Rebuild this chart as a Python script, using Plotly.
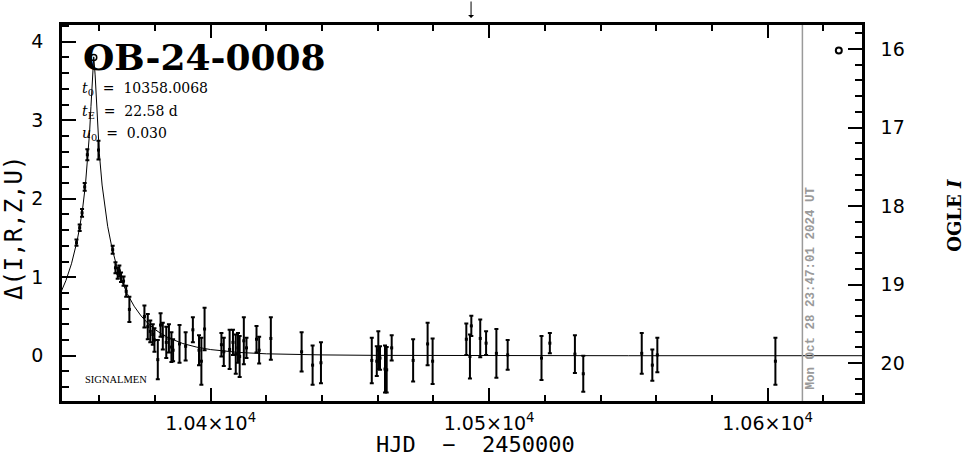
import plotly.graph_objects as go

# ---------------- data ----------------
# observed points: time (HJD-2450000), Delta magnitude, error
t_obs = [10351.8, 10352.95, 10353.8, 10354.75, 10355.7, 10359.7,
         10364.8, 10365.8, 10366.6, 10367.2, 10367.8, 10368.7, 10369.65, 10370.8,
         10376.2, 10377.4, 10378.3, 10379.2, 10379.8, 10381.0, 10382.0, 10382.8,
         10384.05, 10385.0, 10385.9, 10386.5, 10388.8, 10391.0, 10393.6, 10395.8,
         10396.65, 10397.8, 10403.85, 10404.7, 10406.8, 10408.0, 10409.0, 10409.8,
         10410.4, 10411.9, 10412.85, 10416.45, 10417.4, 10421.6, 10432.65, 10436.6,
         10439.6, 10457.85, 10459.65, 10460.2, 10460.8, 10462.6, 10463.2, 10465.0,
         10472.7, 10477.9, 10479.7, 10491.8, 10493.6, 10493.1, 10496.8, 10498.9,
         10502.6, 10506.65, 10518.8, 10521.8, 10530.8, 10533.8, 10554.8, 10558.6,
         10560.4, 10602.8]
d_obs = [1.44, 1.63, 1.82, 2.15, 2.56, 2.62,
         1.35, 1.12, 1.05, 1.08, 1.00, 0.95, 0.82, 0.59,
         0.50, 0.37, 0.31, 0.27, 0.20, -0.05, 0.39, 0.25,
         0.17, 0.22, 0.11, 0.07, 0.15, 0.12, 0.33, 0.07,
         -0.07, 0.34, 0.14, 0.05, 0.08, 0.17, 0.02, 0.10,
         -0.01, 0.19, 0.10, 0.21, 0.07, 0.22, 0.05, -0.12,
         -0.09, -0.06, -0.07, 0.07, -0.03, -0.17, -0.18, 0.10,
         -0.06, 0.15, -0.07, 0.21, 0.38, -0.01, 0.22, 0.16,
         0.03, 0.01, -0.03, 0.16, 0.02, -0.23, 0.03, -0.12,
         0.01, -0.07]
e_obs = [0.04, 0.04, 0.05, 0.05, 0.07, 0.12,
         0.05, 0.07, 0.07, 0.07, 0.06, 0.06, 0.07, 0.16,
         0.14, 0.16, 0.14, 0.13, 0.15, 0.25, 0.15, 0.17,
         0.20, 0.18, 0.19, 0.14, 0.24, 0.18, 0.16, 0.19,
         0.30, 0.27, 0.15, 0.18, 0.25, 0.16, 0.25, 0.19,
         0.26, 0.30, 0.13, 0.17, 0.17, 0.27, 0.25, 0.25,
         0.26, 0.29, 0.19, 0.24, 0.15, 0.30, 0.29, 0.16,
         0.27, 0.27, 0.29, 0.20, 0.13, 0.28, 0.24, 0.15,
         0.31, 0.19, 0.28, 0.13, 0.24, 0.23, 0.26, 0.20,
         0.22, 0.30]

# open-circle point at the peak
t_peak = [10358.0]
d_peak = [3.80]

# model light curve
model_t = [10346, 10348, 10350, 10352, 10353, 10354, 10355, 10356, 10356.5, 10357,
           10357.5, 10358, 10358.5, 10359, 10359.5, 10360, 10361, 10362, 10363,
           10364.5, 10366, 10368, 10370, 10372.5, 10375, 10377.5, 10380, 10382.5,
           10385, 10390, 10395, 10400, 10410, 10420, 10430, 10440, 10460, 10500,
           10550, 10640]
model_d = [0.791, 0.957, 1.171, 1.459, 1.646, 1.875, 2.170, 2.573, 2.841, 3.176,
           3.566, 3.807, 3.577, 3.186, 2.850, 2.580, 2.174, 1.879, 1.649,
           1.381, 1.173, 0.958, 0.792, 0.631, 0.507, 0.410, 0.334, 0.274,
           0.226, 0.155, 0.109, 0.078, 0.042, 0.024, 0.015, 0.010, 0.004, 0.001,
           0.0, 0.0]

x_tickvals = [10400, 10500, 10600]
x_ticktext = ["1.04×10<sup>4</sup>", "1.05×10<sup>4</sup>", "1.06×10<sup>4</sup>"]
y_tickvals = [0, 1, 2, 3, 4]
y2_tickvals = [16, 17, 18, 19, 20]

event_name = "OB-24-0008"
t0_text = "10358.0068"
tE_text = "22.58 d"
u0_text = "0.030"
now_time = 10612.5
now_label = "Mon Oct 28 23:47:01 2024 UT"
arrow_time = 10493.5

# ---------------- figure ----------------
fig = go.Figure()

fig.add_trace(go.Scatter(
    x=model_t, y=model_d, mode="lines",
    line=dict(color="black", width=1),
    showlegend=False, hoverinfo="skip"))

fig.add_trace(go.Scatter(
    x=t_obs, y=d_obs, mode="markers",
    marker=dict(symbol="square", size=3, color="black"),
    error_y=dict(type="data", array=e_obs, color="black", thickness=2, width=2),
    showlegend=False))

fig.add_trace(go.Scatter(
    x=t_peak, y=d_peak, mode="markers",
    marker=dict(symbol="circle-open", size=6, color="black", line=dict(width=1.5)),
    showlegend=False))

fig.add_trace(go.Scatter(
    x=[None], y=[None], yaxis="y2", mode="markers", name="",
    marker=dict(symbol="circle-open", size=6, color="black", line=dict(width=2)),
    showlegend=True))

axis_font = dict(family="DejaVu Sans", size=19, color="black")

fig.update_layout(
    width=965, height=459,
    margin=dict(l=62, r=103, t=25, b=58),
    paper_bgcolor="white", plot_bgcolor="white",
    showlegend=True,
    legend=dict(x=0.946, y=0.971, xanchor="left", yanchor="top",
                bgcolor="rgba(0,0,0,0)", font=dict(size=1), itemwidth=30,
                tracegroupgap=0),
    xaxis=dict(
        range=[10346.6, 10633.9], tickmode="array",
        tickvals=x_tickvals, ticktext=x_ticktext,
        ticks="inside", ticklen=13, tickwidth=2, tickcolor="black",
        showline=True, linewidth=2.5, linecolor="black", mirror="ticks",
        showgrid=False, zeroline=False, tickfont=axis_font,
        ticklabelstandoff=3,
        minor=dict(tick0=10400, dtick=20, ticks="inside", ticklen=6,
                   tickwidth=2, tickcolor="black", showgrid=False)),
    yaxis=dict(
        range=[-0.577, 4.213], tickmode="array", tickvals=y_tickvals,
        ticks="inside", ticklen=14, tickwidth=2, tickcolor="black",
        showline=True, linewidth=2.5, linecolor="black", mirror=False,
        showgrid=False, zeroline=False, tickfont=axis_font,
        ticklabelstandoff=12,
        minor=dict(tick0=0, dtick=0.2, ticks="inside", ticklen=7,
                   tickwidth=2, tickcolor="black", showgrid=False)),
    yaxis2=dict(
        overlaying="y", side="right",
        range=[20.484, 15.694], tickmode="array", tickvals=y2_tickvals,
        ticks="inside", ticklen=14, tickwidth=2, tickcolor="black",
        showline=True, linewidth=2.5, linecolor="black",
        showgrid=False, zeroline=False, tickfont=axis_font,
        ticklabelstandoff=12,
        minor=dict(tick0=16, dtick=0.2, ticks="inside", ticklen=7,
                   tickwidth=2, tickcolor="black", showgrid=False)),
)

# vertical "now" line
fig.add_shape(type="line", xref="x", yref="paper", x0=now_time, x1=now_time,
              y0=0, y1=1, line=dict(color="#9a9a9a", width=1.5))

serif = "DejaVu Serif"
mono = "DejaVu Sans Mono"
ann = []
ann.append(dict(text="<b>" + event_name + "</b>", xref="paper", yref="paper",
                x=0.024, y=0.916, xanchor="left", yanchor="middle", showarrow=False,
                font=dict(family=serif, size=36, color="black")))
ann.append(dict(text="<i>t</i><sub>0</sub>\u00a0\u00a0=\u00a0\u00a0" + t0_text,
                xref="paper", yref="paper", x=0.022, y=0.829, xanchor="left",
                yanchor="middle", showarrow=False,
                font=dict(family=serif, size=14, color="black")))
ann.append(dict(text="<i>t</i><sub>E</sub>\u00a0\u00a0=\u00a0\u00a0" + tE_text,
                xref="paper", yref="paper", x=0.022, y=0.768, xanchor="left",
                yanchor="middle", showarrow=False,
                font=dict(family=serif, size=14, color="black")))
ann.append(dict(text="<i>u</i><sub>0</sub>\u00a0\u00a0=\u00a0\u00a0" + u0_text,
                xref="paper", yref="paper", x=0.022, y=0.711, xanchor="left",
                yanchor="middle", showarrow=False,
                font=dict(family=serif, size=14, color="black")))
ann.append(dict(text="SIGNALMEN", xref="paper", yref="paper", x=0.026, y=0.056,
                xanchor="left", yanchor="middle", showarrow=False,
                font=dict(family="Liberation Serif", size=10.5, color="black")))
ann.append(dict(text="Δ(I,R,Z,U)", xref="paper", yref="paper", x=-0.06, y=0.46,
                xanchor="center", yanchor="middle", textangle=-90, showarrow=False,
                font=dict(family=mono, size=24, color="black")))
ann.append(dict(text="HJD\u00a0\u00a0−\u00a0\u00a02450000", xref="paper", yref="paper",
                x=0.5175, y=-0.117, xanchor="center", yanchor="middle", showarrow=False,
                font=dict(family=mono, size=22, color="black")))
ann.append(dict(text="<b>OGLE <i>I</i></b>", xref="paper", yref="paper", x=1.116,
                y=0.495, xanchor="center", yanchor="middle", textangle=-90,
                showarrow=False, font=dict(family=serif, size=18, color="black")))
ann.append(dict(text="<b>" + now_label + "</b>", xref="x", yref="paper", x=now_time,
                y=0.025, xanchor="left", yanchor="bottom", xshift=0, textangle=-90,
                showarrow=False,
                font=dict(family="Liberation Mono", size=12.5, color="#9a9a9a")))
ann.append(dict(text="", xref="x", yref="paper", x=arrow_time, y=1, ax=0, ay=-25,
                showarrow=True, arrowhead=1, arrowsize=1, arrowwidth=1,
                arrowcolor="black", standoff=7))
fig.update_layout(annotations=ann)

fig.write_html("out.html",
               config={"displayModeBar": False},
               post_script="document.body.style.margin='0';"
                           "document.body.style.overflow='hidden';")
